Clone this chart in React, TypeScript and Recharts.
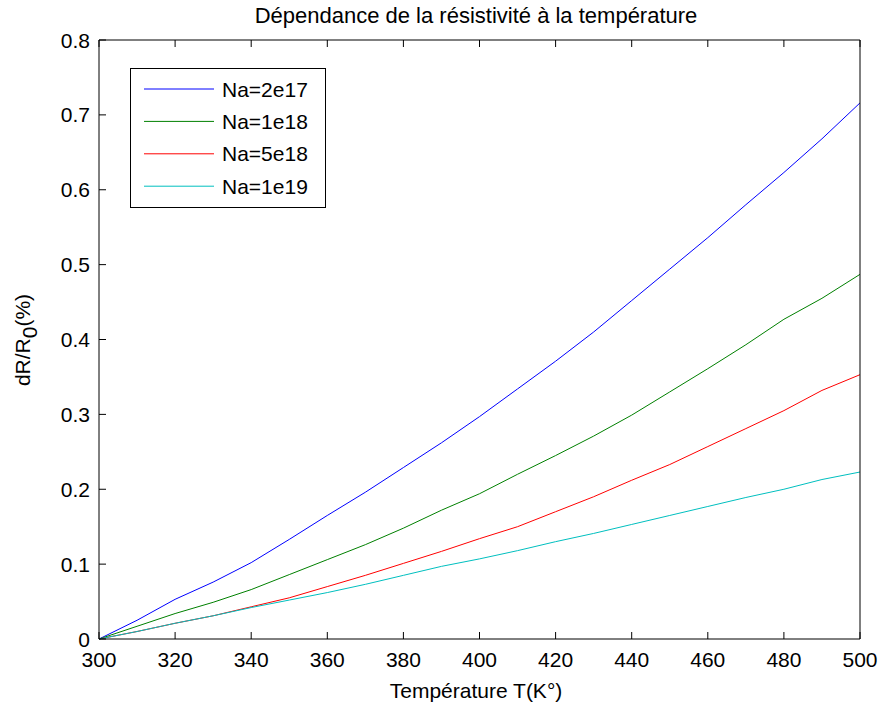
import React from 'react';
import { LineChart, Line, XAxis, YAxis } from 'recharts';

const temperatures = [300, 310, 320, 330, 340, 350, 360, 370, 380, 390, 400, 410, 420, 430, 440, 450, 460, 470, 480, 490, 500];
const na2e17 = [0, 0.025, 0.053, 0.076, 0.102, 0.133, 0.165, 0.196, 0.229, 0.262, 0.297, 0.334, 0.371, 0.410, 0.452, 0.494, 0.536, 0.580, 0.623, 0.668, 0.716];
const na1e18 = [0, 0.017, 0.034, 0.049, 0.066, 0.086, 0.106, 0.126, 0.148, 0.172, 0.194, 0.220, 0.245, 0.271, 0.299, 0.330, 0.361, 0.393, 0.427, 0.455, 0.487];
const na5e18 = [0, 0.010, 0.021, 0.031, 0.043, 0.055, 0.070, 0.085, 0.101, 0.117, 0.134, 0.150, 0.170, 0.190, 0.212, 0.233, 0.257, 0.281, 0.305, 0.332, 0.353];
const na1e19 = [0, 0.010, 0.021, 0.031, 0.042, 0.052, 0.062, 0.073, 0.085, 0.097, 0.107, 0.118, 0.130, 0.141, 0.153, 0.165, 0.177, 0.189, 0.200, 0.213, 0.223];

const xTicks = [300, 320, 340, 360, 380, 400, 420, 440, 460, 480, 500];
const yTicks = [0, 0.1, 0.2, 0.3, 0.4, 0.5, 0.6, 0.7, 0.8];

const series = [
  { key: 'a', name: 'Na=2e17', color: '#0000FF', values: na2e17 },
  { key: 'b', name: 'Na=1e18', color: '#008000', values: na1e18 },
  { key: 'c', name: 'Na=5e18', color: '#FF0000', values: na5e18 },
  { key: 'd', name: 'Na=1e19', color: '#00BFBF', values: na1e19 },
];

const data = temperatures.map((t, i) => {
  const row: Record<string, number> = { t };
  series.forEach(s => { row[s.key] = s.values[i]; });
  return row;
});

const FONT = '"Liberation Sans", Arial, sans-serif';
const TICK = 7;

const fmtY = (v: number) => (v === 0 ? '0' : String(Math.round(v * 10) / 10));

const BottomTick = ({ x, y, payload }: any) => (
  <g>
    <line x1={x} y1={y} x2={x} y2={y - TICK} stroke="#000" />
    <text x={x} y={y + 28} textAnchor="middle" fontSize={21} fontFamily={FONT} fill="#000">{payload.value}</text>
  </g>
);

const TopTick = ({ x, y }: any) => <line x1={x} y1={y} x2={x} y2={y + TICK} stroke="#000" />;

const LeftTick = ({ x, y, payload }: any) => (
  <g>
    <line x1={x} y1={y} x2={x + TICK} y2={y} stroke="#000" />
    <text x={x - 9} y={y} dy="0.36em" textAnchor="end" fontSize={21} fontFamily={FONT} fill="#000">{fmtY(payload.value)}</text>
  </g>
);

const RightTick = ({ x, y }: any) => <line x1={x} y1={y} x2={x - TICK} y2={y} stroke="#000" />;

// legend box drawn in svg so it does not eat into the plot area
const LegendBox = () => (
  <g>
    <rect x={130.5} y={68.5} width={195} height={139} fill="#fff" stroke="#000" />
    {series.map((s, i) => {
      const cy = 89 + i * 32.4;
      return (
        <g key={s.key}>
          <line x1={144} x2={214} y1={cy} y2={cy} stroke={s.color} />
          <text x={222} y={cy} dy="0.36em" fontSize={21} fontFamily={FONT} fill="#000">{s.name}</text>
        </g>
      );
    })}
  </g>
);

export default function App() {
  return (
    <div style={{ position: 'absolute', left: 0, top: 0, background: '#fff' }}>
      <LineChart width={885} height={707} data={data} margin={{ top: 39, right: 24, bottom: 0, left: 0 }}>
        <XAxis xAxisId="bottom" dataKey="t" type="number" domain={[300, 500]} ticks={xTicks} interval={0}
          height={68} tickSize={0} tickMargin={0} tick={<BottomTick />} axisLine={{ stroke: '#000' }} />
        <XAxis xAxisId="top" orientation="top" dataKey="t" type="number" domain={[300, 500]} ticks={xTicks} interval={0}
          height={1} tickSize={0} tickMargin={0} tick={<TopTick />} axisLine={{ stroke: '#000' }} />
        <YAxis yAxisId="left" type="number" domain={[0, 0.8]} ticks={yTicks} interval={0}
          width={99} tickSize={0} tickMargin={0} tick={<LeftTick />} axisLine={{ stroke: '#000' }} />
        <YAxis yAxisId="right" orientation="right" type="number" domain={[0, 0.8]} ticks={yTicks} interval={0}
          width={1} tickSize={0} tickMargin={0} tick={<RightTick />} axisLine={{ stroke: '#000' }} />
        {series.map(s => (
          <Line key={s.key} xAxisId="bottom" yAxisId="left" type="linear" dataKey={s.key} name={s.name}
            stroke={s.color} strokeWidth={1} dot={false} activeDot={false} isAnimationActive={false} />
        ))}
        <LegendBox />
        <text x={476} y={23} textAnchor="middle" fontSize={22} fontFamily={FONT} fill="#000">
          Dépendance de la résistivité à la température
        </text>
        <text x={476} y={698} textAnchor="middle" fontSize={21} fontFamily={FONT} fill="#000">
          Température T(K°)
        </text>
        <text transform="translate(30, 340) rotate(-90)" textAnchor="middle" fontSize={21} fontFamily={FONT} fill="#000">
          dR/R<tspan dy={7}>0</tspan><tspan dy={-7}>(%)</tspan>
        </text>
      </LineChart>
    </div>
  );
}
